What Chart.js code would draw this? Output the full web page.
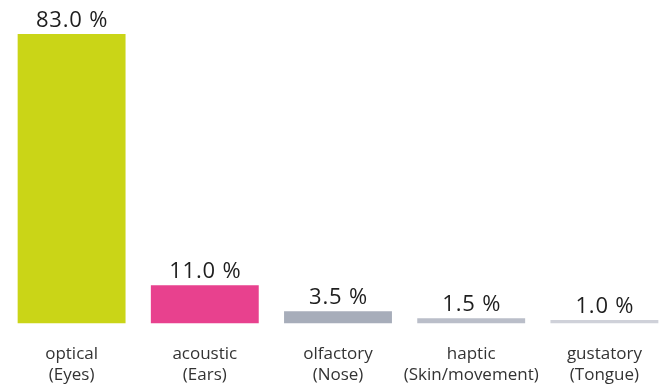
<!DOCTYPE html>
<html>
<head>
<meta charset="utf-8">
<script src="https://cdn.jsdelivr.net/npm/chart.js@4/dist/chart.umd.min.js"></script>
<style>
  html, body { margin: 0; padding: 0; background: #fff; }
  #wrap { width: 671px; height: 387px; }
</style>
</head>
<body>
<div id="wrap"><canvas id="barChart"></canvas></div>
<script>
// === Datos ===
const categorias = [
  ['optical', '(Eyes)'],
  ['acoustic', '(Ears)'],
  ['olfactory', '(Nose)'],
  ['haptic', '(Skin/movement)'],
  ['gustatory', '(Tongue)']
];
const porcentajes = [83.0, 11.0, 3.5, 1.5, 1.0];
const colores = ['#cad517', '#e8418e', '#a7adba', '#babec9', '#cfd1d9'];

// Etiquetas de valor encima de cada barra
const valorEncima = {
  id: 'valorEncima',
  afterDatasetsDraw(chart) {
    const { ctx } = chart;
    const meta = chart.getDatasetMeta(0);
    ctx.save();
    ctx.font = '22px "Open Sans"';
    ctx.letterSpacing = '0.8px';
    ctx.fillStyle = '#1e1e1e';
    ctx.textAlign = 'center';
    ctx.textBaseline = 'alphabetic';
    meta.data.forEach((bar, i) => {
      ctx.fillText(porcentajes[i].toFixed(1) + ' %', bar.x + 0.5, bar.y - 7.5);
    });
    ctx.restore();
  }
};

new Chart(document.getElementById('barChart'), {
  type: 'bar',
  data: {
    labels: categorias,
    datasets: [{
      data: porcentajes,
      backgroundColor: colores,
      barPercentage: 0.81,
      categoryPercentage: 1.0
    }]
  },
  options: {
    responsive: true,
    maintainAspectRatio: false,
    animation: false,
    layout: { padding: { left: 5, right: 0, top: 34, bottom: -19 } },
    plugins: {
      legend: { display: false },
      tooltip: { enabled: false }
    },
    scales: {
      x: {
        grid: { display: false, drawTicks: false },
        border: { display: false },
        ticks: {
          padding: 20,
          color: '#333',
          font: { family: 'Open Sans', size: 17, lineHeight: 1.25 },
          maxRotation: 0,
          autoSkip: false
        }
      },
      y: {
        display: false,
        min: 0,
        max: 83
      }
    }
  },
  plugins: [valorEncima]
});
</script>
</body>
</html>
